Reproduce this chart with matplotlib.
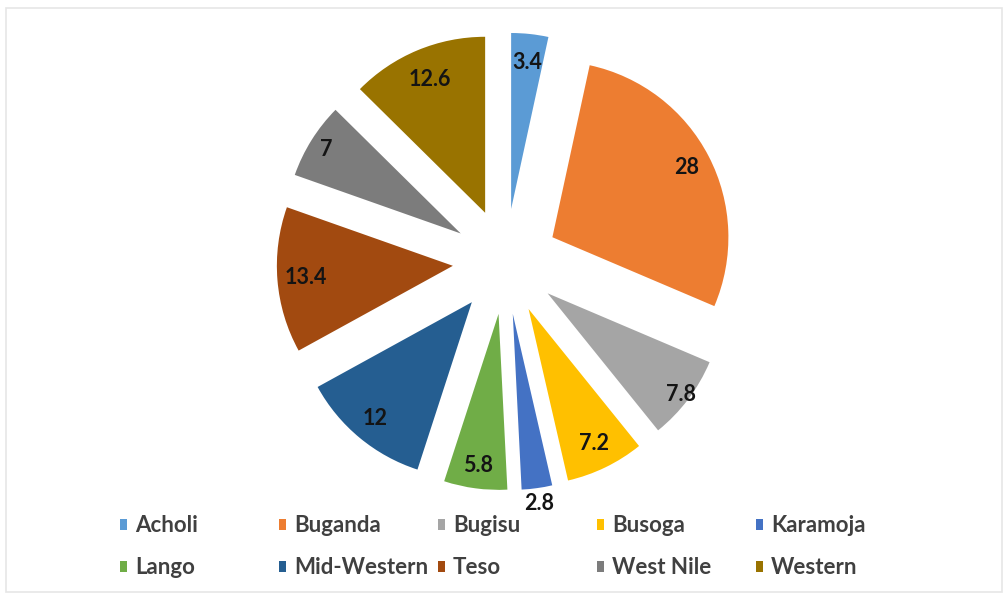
import matplotlib
matplotlib.use("Agg")
import matplotlib.pyplot as plt
import numpy as np
from matplotlib.patches import Rectangle, Patch

regions = ["Acholi", "Buganda", "Bugisu", "Busoga", "Karamoja",
           "Lango", "Mid-Western", "Teso", "West Nile", "Western"]
values = [3.4, 28, 7.8, 7.2, 2.8, 5.8, 12, 13.4, 7, 12.6]
value_labels = ["3.4", "28", "7.8", "7.2", "2.8", "5.8", "12", "13.4", "7", "12.6"]

colors = ["#5B9BD5", "#ED7D31", "#A5A5A5", "#FFC000", "#4472C4",
          "#70AD47", "#255E91", "#A24A10", "#7C7C7C", "#997300"]
explode = [0.30] * len(values)
# label distance measured from each exploded wedge's own centre (in radii)
label_dist = [0.84, 0.86, 0.95, 0.85, 1.09, 0.87, 0.86, 0.84, 0.90, 0.82]

W, H = 1008, 594
fig = plt.figure(figsize=(W / 100, H / 100), dpi=100)
fig.patch.set_facecolor("white")

# pie centre and radius in pixels
cx, cy, R = 505.5, 261.5, 176.0
ax = fig.add_axes([0, 0, 1, 1])
wedges, _ = ax.pie(values, colors=colors, explode=explode, startangle=90,
                   counterclock=False, radius=1.0,
                   wedgeprops=dict(linewidth=0))
ax.set_aspect("auto")
ax.set_xlim(-cx / R, (W - cx) / R)
ax.set_ylim(-(H - cy) / R, cy / R)
ax.axis("off")

font = ["Lato", "DejaVu Sans"]
for w, lab, ld in zip(wedges, value_labels, label_dist):
    ang = np.deg2rad((w.theta1 + w.theta2) / 2)
    x0, y0 = w.center
    ax.text(x0 + ld * np.cos(ang), y0 + ld * np.sin(ang), lab,
            ha="center", va="center", fontsize=15.5, fontweight="bold",
            color="#141414", family=font)

# faint chart border
fig.add_artist(Rectangle((6 / W, 2 / H), (W - 12) / W, (H - 10) / H,
                         transform=fig.transFigure, fill=False,
                         edgecolor="#e6e6e6", linewidth=1.2))

# legend entries (two rows of five)
row_y = [526, 568]
col_x = [123, 282, 441, 600, 759]   # marker centres
fs = 16
for i, (name, col) in enumerate(zip(regions, colors)):
    r, c = divmod(i, 5)
    x = col_x[c] - 3.5
    y = row_y[r]
    leg = fig.legend(handles=[Patch(facecolor=col, edgecolor="none", label=name)],
                     loc="center left",
                     bbox_to_anchor=(x / W, 1 - y / H),
                     frameon=False, borderpad=0, borderaxespad=0,
                     handlelength=0.32, handleheight=0.32, handletextpad=0.38,
                     prop=dict(family=font, weight="bold", size=fs))
    for t in leg.get_texts():
        t.set_color("#404040")

fig.savefig("out.png", dpi=100, facecolor="white")
